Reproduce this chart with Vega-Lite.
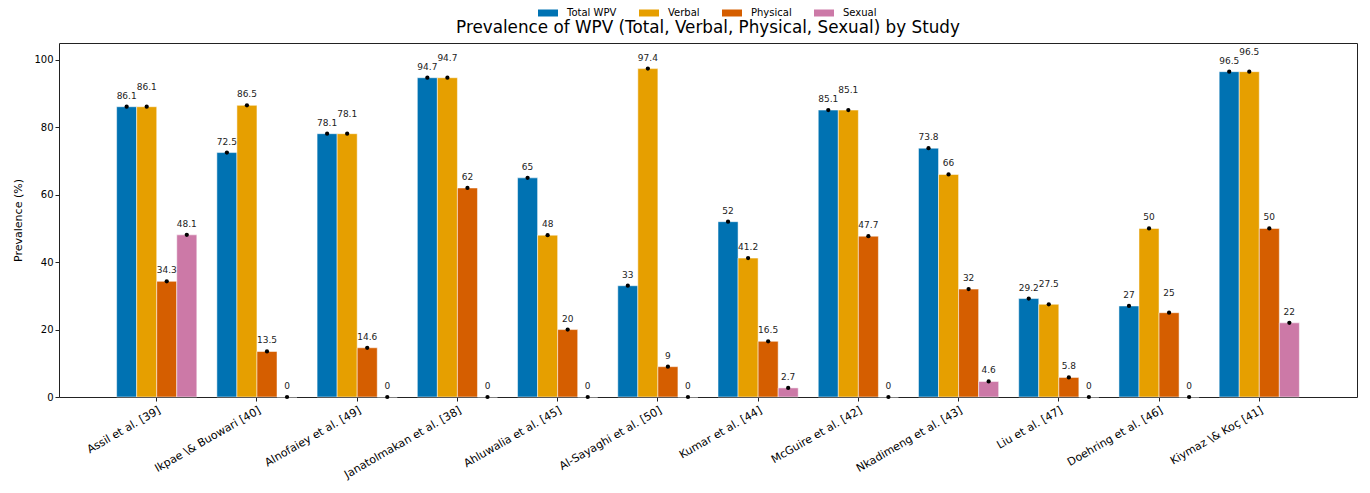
{
  "$schema": "https://vega.github.io/schema/vega-lite/v6.json",
  "width": 1298,
  "height": 354,
  "autosize": {"type": "none"},
  "padding": {"left": 59, "top": 43, "right": 13, "bottom": 96},
  "background": "white",
  "config": {
    "font": "DejaVu Sans",
    "view": {"stroke": "#222222", "strokeWidth": 1}
  },
  "title": {
    "text": "Prevalence of WPV (Total, Verbal, Physical, Sexual) by Study",
    "fontSize": 16.8,
    "fontWeight": "normal",
    "color": "#000000",
    "frame": "group",
    "anchor": "middle",
    "offset": 6,
    "dy": 40
  },
  "data": {
    "values": [
      {"study": "Assil et al. [39]", "type": "Total WPV", "value": 86.1},
      {"study": "Assil et al. [39]", "type": "Verbal", "value": 86.1},
      {"study": "Assil et al. [39]", "type": "Physical", "value": 34.3},
      {"study": "Assil et al. [39]", "type": "Sexual", "value": 48.1},
      {"study": "Ikpae \\& Buowari [40]", "type": "Total WPV", "value": 72.5},
      {"study": "Ikpae \\& Buowari [40]", "type": "Verbal", "value": 86.5},
      {"study": "Ikpae \\& Buowari [40]", "type": "Physical", "value": 13.5},
      {"study": "Ikpae \\& Buowari [40]", "type": "Sexual", "value": 0},
      {"study": "Alnofaiey et al. [49]", "type": "Total WPV", "value": 78.1},
      {"study": "Alnofaiey et al. [49]", "type": "Verbal", "value": 78.1},
      {"study": "Alnofaiey et al. [49]", "type": "Physical", "value": 14.6},
      {"study": "Alnofaiey et al. [49]", "type": "Sexual", "value": 0},
      {"study": "Janatolmakan et al. [38]", "type": "Total WPV", "value": 94.7},
      {"study": "Janatolmakan et al. [38]", "type": "Verbal", "value": 94.7},
      {"study": "Janatolmakan et al. [38]", "type": "Physical", "value": 62},
      {"study": "Janatolmakan et al. [38]", "type": "Sexual", "value": 0},
      {"study": "Ahluwalia et al. [45]", "type": "Total WPV", "value": 65},
      {"study": "Ahluwalia et al. [45]", "type": "Verbal", "value": 48},
      {"study": "Ahluwalia et al. [45]", "type": "Physical", "value": 20},
      {"study": "Ahluwalia et al. [45]", "type": "Sexual", "value": 0},
      {"study": "Al-Sayaghi et al. [50]", "type": "Total WPV", "value": 33},
      {"study": "Al-Sayaghi et al. [50]", "type": "Verbal", "value": 97.4},
      {"study": "Al-Sayaghi et al. [50]", "type": "Physical", "value": 9},
      {"study": "Al-Sayaghi et al. [50]", "type": "Sexual", "value": 0},
      {"study": "Kumar et al. [44]", "type": "Total WPV", "value": 52},
      {"study": "Kumar et al. [44]", "type": "Verbal", "value": 41.2},
      {"study": "Kumar et al. [44]", "type": "Physical", "value": 16.5},
      {"study": "Kumar et al. [44]", "type": "Sexual", "value": 2.7},
      {"study": "McGuire et al. [42]", "type": "Total WPV", "value": 85.1},
      {"study": "McGuire et al. [42]", "type": "Verbal", "value": 85.1},
      {"study": "McGuire et al. [42]", "type": "Physical", "value": 47.7},
      {"study": "McGuire et al. [42]", "type": "Sexual", "value": 0},
      {"study": "Nkadimeng et al. [43]", "type": "Total WPV", "value": 73.8},
      {"study": "Nkadimeng et al. [43]", "type": "Verbal", "value": 66},
      {"study": "Nkadimeng et al. [43]", "type": "Physical", "value": 32},
      {"study": "Nkadimeng et al. [43]", "type": "Sexual", "value": 4.6},
      {"study": "Liu et al. [47]", "type": "Total WPV", "value": 29.2},
      {"study": "Liu et al. [47]", "type": "Verbal", "value": 27.5},
      {"study": "Liu et al. [47]", "type": "Physical", "value": 5.8},
      {"study": "Liu et al. [47]", "type": "Sexual", "value": 0},
      {"study": "Doehring et al. [46]", "type": "Total WPV", "value": 27},
      {"study": "Doehring et al. [46]", "type": "Verbal", "value": 50},
      {"study": "Doehring et al. [46]", "type": "Physical", "value": 25},
      {"study": "Doehring et al. [46]", "type": "Sexual", "value": 0},
      {"study": "Kiymaz \\& Koç [41]", "type": "Total WPV", "value": 96.5},
      {"study": "Kiymaz \\& Koç [41]", "type": "Verbal", "value": 96.5},
      {"study": "Kiymaz \\& Koç [41]", "type": "Physical", "value": 50},
      {"study": "Kiymaz \\& Koç [41]", "type": "Sexual", "value": 22}
    ]
  },
  "transform": [
    {
      "window": [
        {"op": "lag", "field": "value", "param": 1, "as": "p1"},
        {"op": "lag", "field": "value", "param": 2, "as": "p2"},
        {"op": "lag", "field": "value", "param": 3, "as": "p3"}
      ],
      "groupby": ["study"]
    }
  ],
  "encoding": {
    "x": {
      "field": "study",
      "type": "nominal",
      "sort": null,
      "scale": {"paddingInner": 0.2, "paddingOuter": 0.575},
      "axis": {
        "title": null,
        "labelAngle": -30,
        "labelAlign": "right",
        "labelBaseline": "top",
        "labelFontSize": 11,
        "labelColor": "#000000",
        "labelPadding": 3,
        "tickSize": 4,
        "tickColor": "#222222",
        "domain": false,
        "bandPosition": 0.5
      }
    },
    "xOffset": {
      "field": "type",
      "type": "nominal",
      "sort": ["Total WPV", "Verbal", "Physical", "Sexual"],
      "scale": {"paddingInner": 0, "paddingOuter": 0}
    },
    "y": {
      "field": "value",
      "type": "quantitative",
      "scale": {"domain": [0, 105], "nice": false},
      "axis": {
        "title": "Prevalence (%)",
        "titleFontSize": 11,
        "titleFontWeight": "normal",
        "titleColor": "#000000",
        "titlePadding": 10,
        "values": [0, 20, 40, 60, 80, 100],
        "labelFontSize": 10,
        "labelColor": "#000000",
        "tickSize": 4,
        "tickColor": "#222222",
        "labelPadding": 2,
        "grid": false,
        "domain": false
      }
    }
  },
  "layer": [
    {
      "mark": {"type": "bar", "stroke": "white", "strokeWidth": 0.5},
      "encoding": {
        "color": {
          "field": "type",
          "type": "nominal",
          "sort": ["Total WPV", "Verbal", "Physical", "Sexual"],
          "scale": {
            "domain": ["Total WPV", "Verbal", "Physical", "Sexual"],
            "range": ["#0072B2", "#E69F00", "#D55E00", "#CC79A7"]
          },
          "legend": {
            "title": null,
            "orient": "none",
            "direction": "horizontal",
            "legendX": 479,
            "legendY": -40,
            "symbolType": "M-1,-0.35L1,-0.35L1,0.35L-1,0.35Z",
            "symbolSize": 400,
            "symbolStrokeWidth": 0,
            "labelFontSize": 10,
            "labelColor": "#000000",
            "labelOffset": 9,
            "columnPadding": 22,
            "padding": 0
          }
        }
      }
    },
    {
      "mark": {"type": "point", "filled": true, "color": "black", "size": 18, "opacity": 1}
    },
    {
      "transform": [
        {"filter": "!((isValid(datum.p1) && abs(datum.value - datum.p1) < 5) || (isValid(datum.p2) && abs(datum.value - datum.p2) < 5) || (isValid(datum.p3) && abs(datum.value - datum.p3) < 5))"}
      ],
      "mark": {"type": "text", "dy": -8, "fontSize": 9, "color": "#222222", "baseline": "alphabetic"},
      "encoding": {"text": {"field": "value", "type": "quantitative"}}
    },
    {
      "transform": [
        {"filter": "(isValid(datum.p1) && abs(datum.value - datum.p1) < 5) || (isValid(datum.p2) && abs(datum.value - datum.p2) < 5) || (isValid(datum.p3) && abs(datum.value - datum.p3) < 5)"}
      ],
      "mark": {"type": "text", "dy": -17, "fontSize": 9, "color": "#222222", "baseline": "alphabetic"},
      "encoding": {"text": {"field": "value", "type": "quantitative"}}
    }
  ]
}
